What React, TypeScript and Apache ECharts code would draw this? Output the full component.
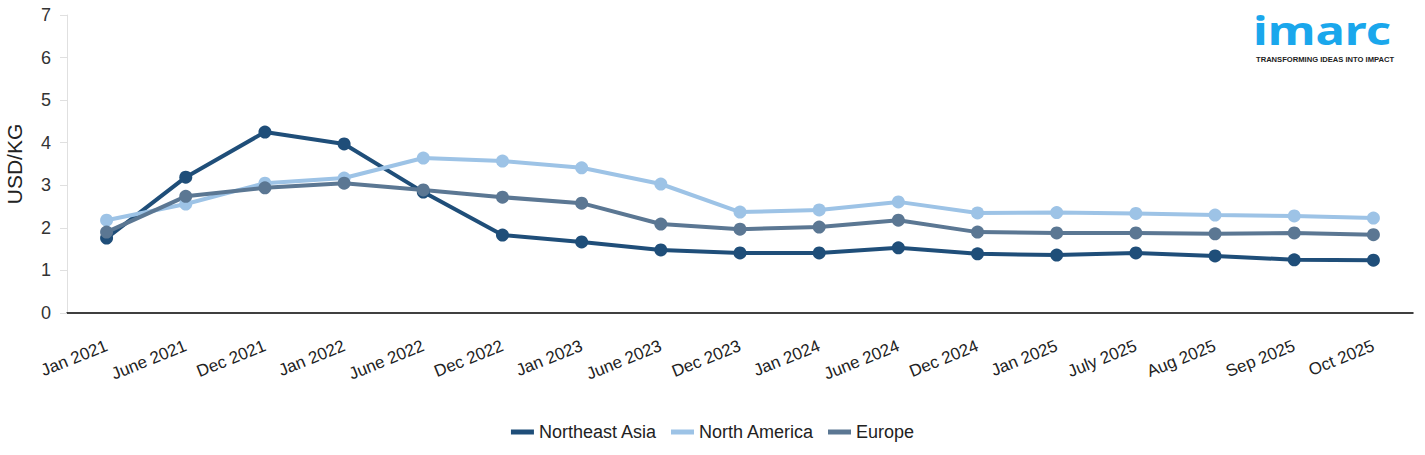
import React, { useEffect, useRef } from "react";
import * as echarts from "echarts";

const categories = [
  "Jan 2021", "June 2021", "Dec 2021", "Jan 2022", "June 2022", "Dec 2022", "Jan 2023", "June 2023",
  "Dec 2023", "Jan 2024", "June 2024", "Dec 2024", "Jan 2025", "July 2025", "Aug 2025", "Sep 2025", "Oct 2025",
];
const northeastAsia = [1.76, 3.19, 4.25, 3.97, 2.84, 1.83, 1.67, 1.48, 1.41, 1.41, 1.53, 1.39, 1.36, 1.41, 1.34, 1.25, 1.24];
const northAmerica = [2.18, 2.56, 3.05, 3.17, 3.64, 3.57, 3.41, 3.03, 2.37, 2.42, 2.61, 2.35, 2.36, 2.34, 2.30, 2.28, 2.23];
const europe = [1.9, 2.74, 2.94, 3.05, 2.89, 2.72, 2.58, 2.09, 1.97, 2.02, 2.18, 1.9, 1.88, 1.88, 1.86, 1.88, 1.84];

const COLORS = ["#1f4e79", "#9dc3e6", "#5b7793"];
const FONT = "Liberation Sans, Arial, sans-serif";

export default function App() {
  const ref = useRef<HTMLDivElement>(null);
  useEffect(() => {
    const chart = echarts.init(ref.current!, null, { renderer: "svg" });
    const mk = (name: string, data: number[], color: string) => ({
      name,
      type: "line",
      data,
      symbol: "circle",
      symbolSize: 13,
      lineStyle: { width: 4, color },
      itemStyle: { color },
      z: 2,
    });
    chart.setOption({
      animation: false,
      backgroundColor: "#ffffff",
      textStyle: { fontFamily: FONT },
      grid: { left: 67, right: 12, top: 15, bottom: 142, containLabel: false, outerBoundsMode: "none" },
      legend: {
        top: 418,
        left: "center",
        itemWidth: 23,
        itemHeight: 5,
        itemGap: 14,
        icon: "rect",
        textStyle: { fontSize: 18, color: "#222", fontFamily: FONT },
        data: ["Northeast Asia", "North America", "Europe"],
      },
      xAxis: {
        type: "category",
        data: categories,
        boundaryGap: true,
        axisLine: { lineStyle: { color: "#000", width: 1.5 } },
        axisTick: { alignWithLabel: true, length: 12, lineStyle: { color: "#000" } },
        axisLabel: { rotate: 22, fontSize: 17, color: "#222", margin: 32, interval: 0, fontFamily: FONT },
      },
      yAxis: {
        type: "value",
        min: 0,
        max: 7,
        interval: 1,
        name: "USD/KG",
        nameLocation: "middle",
        nameGap: 42,
        nameTextStyle: { fontSize: 21, color: "#222", fontFamily: FONT },
        axisLine: { show: true, lineStyle: { color: "#e0e0e0" } },
        axisTick: { show: true, length: 7, lineStyle: { color: "#e0e0e0" } },
        splitLine: { show: false },
        axisLabel: { fontSize: 18, color: "#333", margin: 16, fontFamily: FONT },
      },
      graphic: [
        {
          type: "text",
          x: 1253,
          y: 30,
          scaleY: 0.8,
          style: {
            text: "imarc",
            fontSize: 49,
            fontWeight: "bold",
            fill: "#1aa7ec",
            fontFamily: "Noto Sans, sans-serif",
            verticalAlign: "middle",
          },
        },
        {
          type: "text",
          x: 1256,
          y: 56,
          scaleX: 1.12,
          style: {
            text: "TRANSFORMING IDEAS INTO IMPACT",
            fontSize: 6.8,
            fontWeight: "bold",
            fill: "#222",
            fontFamily: FONT,
            verticalAlign: "top",
          },
        },
      ],
      series: [
        mk("Northeast Asia", northeastAsia, COLORS[0]),
        mk("North America", northAmerica, COLORS[1]),
        mk("Europe", europe, COLORS[2]),
      ],
    });
    return () => chart.dispose();
  }, []);
  return <div ref={ref} style={{ position: "absolute", left: 0, top: 0, width: 1425, height: 455 }} />;
}
